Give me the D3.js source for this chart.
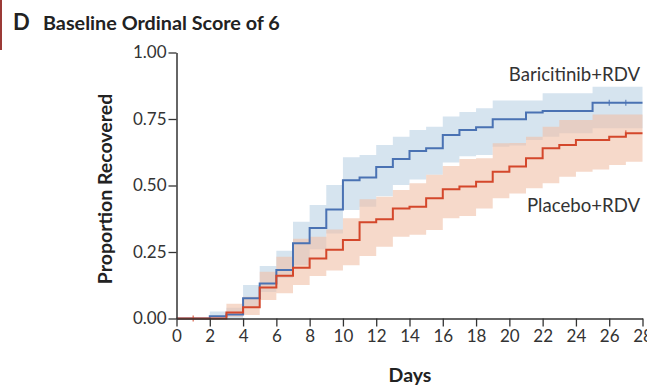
<!DOCTYPE html>
<html><head><meta charset="utf-8">
<script src="https://cdn.jsdelivr.net/npm/d3@7"></script>
<style>body{margin:0;background:#fff}svg{display:block}</style>
</head><body>
<script>
const days = [0,1,2,3,4,5,6,7,8,9,10,11,12,13,14,15,16,17,18,19,20,21,22,23,24,25,26,27,28];
const bari   = [0,0,0.008,0.015,0.076,0.132,0.182,0.283,0.34,0.41,0.52,0.53,0.57,0.6,0.63,0.64,0.69,0.709,0.719,0.749,0.749,0.774,0.78,0.78,0.78,0.811,0.811,0.811,0.811];
const bariLo = [0,0,0,0,0.044,0.1,0.152,0.2,0.26,0.32,0.408,0.42,0.46,0.502,0.523,0.54,0.586,0.61,0.615,0.646,0.65,0.671,0.683,0.696,0.696,0.715,0.715,0.715,0.715];
const bariHi = [0,0,0.026,0.04,0.126,0.197,0.255,0.364,0.427,0.502,0.606,0.615,0.652,0.683,0.709,0.721,0.759,0.776,0.79,0.82,0.82,0.82,0.847,0.847,0.847,0.871,0.871,0.871,0.871];
const plac   = [0,0,0,0.023,0.042,0.117,0.161,0.191,0.226,0.258,0.295,0.362,0.373,0.414,0.42,0.452,0.486,0.496,0.514,0.552,0.571,0.602,0.64,0.652,0.671,0.671,0.683,0.696,0.696];
const placLo = [0,0,0,0.007,0.013,0.07,0.095,0.126,0.16,0.18,0.2,0.235,0.27,0.307,0.315,0.333,0.377,0.385,0.414,0.452,0.47,0.49,0.508,0.533,0.552,0.56,0.577,0.589,0.589];
const placHi = [0,0,0,0.055,0.082,0.176,0.232,0.3,0.307,0.335,0.377,0.448,0.458,0.483,0.508,0.54,0.573,0.6,0.602,0.659,0.66,0.683,0.721,0.746,0.746,0.767,0.767,0.767,0.767];
const bariCensor = [26,27];
const placCensor = [1,27];
const xTicks = [0,2,4,6,8,10,12,14,16,18,20,22,24,26,28];
const yTicks = [0,0.25,0.5,0.75,1];

const W = 647, H = 385;
const svg = d3.select("body").append("svg").attr("width", W).attr("height", H);
const x = d3.scaleLinear().domain([0,28]).range([176.5,642.5]);
const y = d3.scaleLinear().domain([0,1]).range([318.5,52.5]);
const font = "Lato, 'Open Sans', sans-serif";

svg.append("rect").attr("x",0).attr("y",0).attr("width",2).attr("height",50).attr("fill","#9b3a36");

svg.append("text").attr("x",13).attr("y",30).attr("font-family",font).attr("font-weight",700)
  .attr("font-size",22).attr("fill","#222").text("D");
svg.append("text").attr("x",43).attr("y",30).attr("font-family",font).attr("font-weight",700)
  .attr("font-size",19.8).attr("fill","#222").text("Baseline Ordinal Score of 6");

const band = (lo,hi) => d3.area().curve(d3.curveStepAfter)
  .x((d,i)=>x(days[i])).y0((d,i)=>y(lo[i])).y1((d,i)=>y(hi[i]));
const line = v => d3.line().curve(d3.curveStepAfter).x((d,i)=>x(days[i])).y((d,i)=>y(v[i]));

svg.append("path").attr("d", band(bariLo,bariHi)(days)).attr("fill","#d6e4ef");
svg.append("path").attr("d", band(placLo,placHi)(days)).attr("fill","#f0bfa6").attr("fill-opacity",0.6);

svg.append("path").attr("d", line(bari)(days)).attr("fill","none").attr("stroke","#4a72b3").attr("stroke-width",2);
svg.append("path").attr("d", line(plac)(days)).attr("fill","none").attr("stroke","#d4472b").attr("stroke-width",2);

svg.selectAll(".cb").data(bariCensor).enter().append("line")
  .attr("x1",d=>x(d)).attr("x2",d=>x(d)).attr("y1",d=>y(bari[d])-3).attr("y2",d=>y(bari[d])+3)
  .attr("stroke","#4a72b3").attr("stroke-width",1);
svg.selectAll(".cp").data(placCensor).enter().append("line")
  .attr("x1",d=>x(d)).attr("x2",d=>x(d)).attr("y1",d=>y(plac[d])-3).attr("y2",d=>y(plac[d])+3)
  .attr("stroke","#d4472b").attr("stroke-width",1);

const xAxis = svg.append("g").attr("transform",`translate(0,${y(0)})`)
  .call(d3.axisBottom(x).tickValues(xTicks).tickSize(8).tickPadding(3).tickSizeOuter(0));
const yAxis = svg.append("g").attr("transform",`translate(${x(0)},0)`)
  .call(d3.axisLeft(y).tickValues(yTicks).tickFormat(d3.format(".2f")).tickSize(8).tickPadding(2).tickSizeOuter(0));
[xAxis,yAxis].forEach(g=>{
  g.select(".domain").attr("stroke","#333").attr("stroke-width",1.5);
  g.selectAll(".tick line").attr("stroke","#333").attr("stroke-width",1.3);
  g.selectAll("text").attr("font-family",font).attr("font-size",17).attr("fill","#333");
});

svg.append("text").attr("x",410).attr("y",382).attr("text-anchor","middle").attr("font-family",font)
  .attr("font-weight",700).attr("font-size",19.5).attr("fill","#222").text("Days");
svg.append("text").attr("transform","translate(112,189) rotate(-90)").attr("text-anchor","middle")
  .attr("font-family",font).attr("font-weight",700).attr("font-size",19.5).attr("fill","#222").text("Proportion Recovered");

svg.append("text").attr("x",640).attr("y",81).attr("text-anchor","end").attr("font-family",font)
  .attr("font-size",18.6).attr("fill","#333").text("Baricitinib+RDV");
svg.append("text").attr("x",640).attr("y",212).attr("text-anchor","end").attr("font-family",font)
  .attr("font-size",18.6).attr("fill","#333").text("Placebo+RDV");
</script>
</body></html>
